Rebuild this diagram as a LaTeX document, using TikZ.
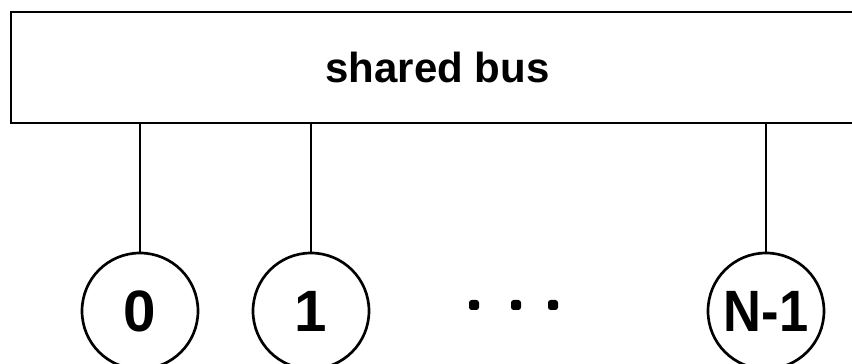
\documentclass[tikz,border=0pt]{standalone}
\usepackage{fontspec}
\setmainfont{Liberation Sans}
\usepackage{tikz}
\usetikzlibrary{positioning}
\tikzset{
  busbox/.style={draw,line width=0.8pt,rectangle,minimum width=255.9pt,minimum height=33.3pt,
    inner sep=0pt,font=\fontsize{12.6}{15}\selectfont\bfseries},
  station/.style={draw,line width=0.8pt,circle,minimum size=34.8pt,inner sep=0pt,
    font=\fontsize{17.5}{20}\selectfont\bfseries},
  tap/.style={line width=0.6pt},
  dot/.style={fill,rounded corners=0.8pt},
}
% squeezed lettering for the last station
\newcommand{\narrow}[1]{\scalebox{0.9}[1]{#1}}

\begin{document}
\begin{tikzpicture}[x=0.3pt,y=-0.3pt]
\useasboundingbox (0,0) rectangle (852,364);
% the bus
\node[busbox] (bus) at (437.5,67.5) {shared bus};

% stations
\node[station] (n0) at (140,311) {0};
\node[station] (n1) at (311,311) {1};
\node[station] (nN) at (766,311) {\narrow{N-1}};

% taps onto the bus
\draw[tap] (bus.south -| n0.north) -- (n0.north);
\draw[tap] (bus.south -| n1.north) -- (n1.north);
\draw[tap] (bus.south -| nN.north) -- (nN.north);

% ellipsis between the stations
\foreach \x in {474,516,553}
  \fill[dot] (\x-5,300) rectangle (\x+5,310);
\end{tikzpicture}
\end{document}
